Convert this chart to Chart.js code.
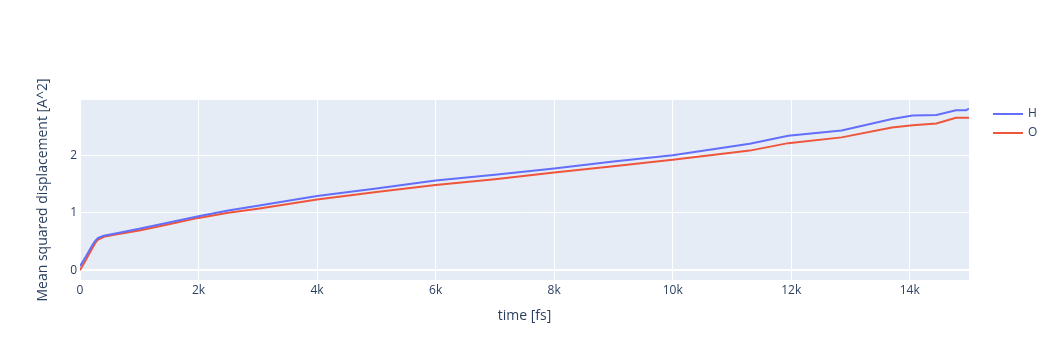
<!DOCTYPE html>
<html>
<head>
<meta charset="utf-8">
<script src="https://cdn.jsdelivr.net/npm/chart.js@4/dist/chart.umd.min.js"></script>
<style>
  html, body { margin: 0; padding: 0; background: #fff; }
  canvas { display: block; }
</style>
</head>
<body>
<canvas id="msd-chart" width="1055" height="360"></canvas>
<script>
const timeFs = [0, 100, 200, 250, 300, 400, 600, 1000, 1500, 2000, 2500, 3000, 4000, 5000, 6000, 7000, 8000, 9000, 10000, 11300, 11950, 12850, 13700, 14050, 14450, 14780, 14950, 15000];
const msdH = [0.07, 0.24, 0.42, 0.50, 0.56, 0.60, 0.64, 0.72, 0.83, 0.94, 1.04, 1.12, 1.29, 1.42, 1.56, 1.66, 1.77, 1.89, 2.00, 2.20, 2.34, 2.43, 2.63, 2.69, 2.70, 2.78, 2.78, 2.81];
const msdO = [0.00, 0.18, 0.37, 0.46, 0.53, 0.58, 0.62, 0.69, 0.80, 0.91, 1.00, 1.07, 1.23, 1.36, 1.48, 1.58, 1.70, 1.81, 1.92, 2.08, 2.21, 2.31, 2.48, 2.52, 2.55, 2.65, 2.65, 2.65];
const seriesNames = ['H', 'O'];
const xTickValues = [0, 2000, 4000, 6000, 8000, 10000, 12000, 14000];
const xTickLabels = ['0', '2k', '4k', '6k', '8k', '10k', '12k', '14k'];
const yTickValues = [0, 1, 2];
const yTickLabels = ['0', '1', '2'];

const fontColor = '#2a3f5f';
const fontFamily = "'Open Sans', 'Noto Sans', sans-serif";
const lineColors = ['#636efa', '#ef553b'];

// plot background + legend, drawn plotly-style
const plotlyLook = {
  id: 'plotlyLook',
  beforeDraw(chart) {
    const a = chart.chartArea;
    const ctx = chart.ctx;
    ctx.save();
    ctx.fillStyle = '#e5ecf6';
    ctx.fillRect(a.left, a.top, a.right - a.left, a.bottom - a.top);
    ctx.restore();
  },
  afterDraw(chart) {
    const ctx = chart.ctx;
    ctx.save();
    ctx.font = '12px ' + fontFamily;
    ctx.textBaseline = 'middle';
    chart.data.datasets.forEach((ds, i) => {
      const y = 114 + i * 19;
      ctx.strokeStyle = ds.borderColor;
      ctx.lineWidth = 2;
      ctx.beginPath();
      ctx.moveTo(993, y);
      ctx.lineTo(1023, y);
      ctx.stroke();
      ctx.fillStyle = fontColor;
      ctx.fillText(ds.label, 1028, y);
    });
    ctx.restore();
  }
};

const ctx = document.getElementById('msd-chart');
new Chart(ctx, {
  type: 'line',
  data: {
    datasets: [msdH, msdO].map((vals, i) => ({
      label: seriesNames[i],
      data: vals.map((v, j) => ({ x: timeFs[j], y: v })),
      borderColor: lineColors[i],
      backgroundColor: lineColors[i],
      borderWidth: 2,
      pointRadius: 0,
      tension: 0,
      fill: false,
    }))
  },
  options: {
    responsive: false,
    animation: false,
    devicePixelRatio: 1,
    layout: { padding: { top: 100, right: 86, bottom: 0, left: 0 } },
    plugins: {
      legend: { display: false },
      tooltip: { enabled: false },
    },
    scales: {
      x: {
        type: 'linear',
        min: 0,
        max: 15000,
        afterBuildTicks: s => { s.ticks = xTickValues.map(v => ({ value: v })); },
        afterFit: s => { s.height = 80; },
        grid: { color: '#ffffff', lineWidth: 1, drawTicks: false },
        border: { display: false },
        ticks: {
          padding: 3,
          maxRotation: 0,
          color: fontColor,
          font: { family: fontFamily, size: 12 },
          callback: (v, i) => xTickLabels[i],
        },
        title: {
          display: true,
          text: 'time [fs]',
          color: fontColor,
          font: { family: fontFamily, size: 14 },
          padding: { top: 0, bottom: 36 },
        },
      },
      y: {
        type: 'linear',
        min: -0.17,
        max: 2.96,
        afterBuildTicks: s => { s.ticks = yTickValues.map(v => ({ value: v })); },
        afterFit: s => { s.width = 80; },
        grid: {
          color: '#ffffff',
          lineWidth: c => (c.tick && c.tick.value === 0 ? 2 : 1),
          drawTicks: false,
        },
        border: { display: false },
        ticks: {
          padding: 3,
          color: fontColor,
          font: { family: fontFamily, size: 12 },
          callback: (v, i) => yTickLabels[i],
        },
        title: {
          display: true,
          text: 'Mean squared displacement [A^2]',
          color: fontColor,
          font: { family: fontFamily, size: 14 },
          padding: { top: 35, bottom: 0 },
        },
      },
    },
  },
  plugins: [plotlyLook],
});
</script>
</body>
</html>
